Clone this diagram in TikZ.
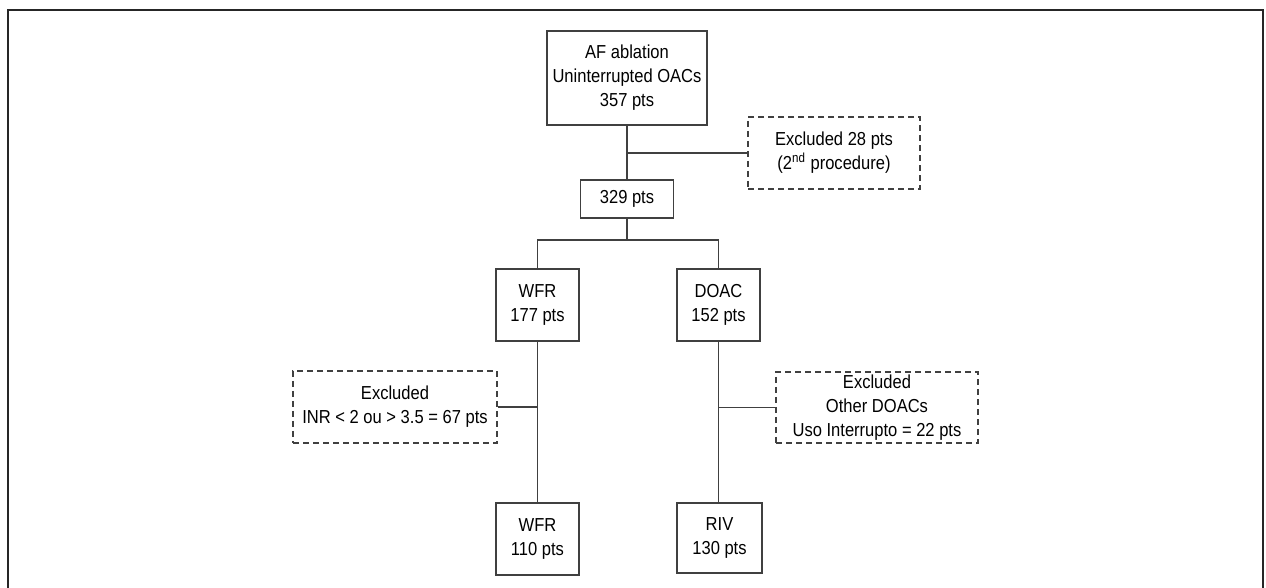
\documentclass[tikz,border=0pt]{standalone}
\usepackage{fontspec}
\setmainfont{Liberation Sans}[FakeStretch=0.88]
\begin{document}
\begin{tikzpicture}[x=0.5pt,y=-0.5pt,
        box/.style={draw=black!75,line width=0.55pt,align=center,inner sep=0pt,font=\fontsize{9.4}{12}\selectfont},
        exclbox/.style={box,dashed,dash pattern=on 3pt off 2pt},
        link/.style={draw=black!75,line width=0.55pt}]
            \useasboundingbox (0,0) rectangle (1266,588);
            \draw[black!85,line width=0.8pt] (8,588)--(8,10)--(1263,10)--(1263,588);
            \node[box,minimum width=80pt,minimum height=47pt] at (627,78) (abl) {AF ablation\\Uninterrupted OACs\\357 pts};
            \node[exclbox,minimum width=86pt,minimum height=36pt] at (834,153) (exproc) {Excluded 28 pts\\(2\textsuperscript{nd} procedure)};
            \node[box,minimum width=46.5pt,minimum height=19pt] at (627,199) (all) {329 pts};
            \node[box,minimum width=41.5pt,minimum height=36pt] at (537.5,305) (wfr) {WFR\\177 pts};
            \node[box,minimum width=41.5pt,minimum height=36pt] at (718.5,305) (doac) {DOAC\\152 pts};
            \node[exclbox,minimum width=102pt,minimum height=36pt] at (395,407) (exinr) {Excluded\\INR < 2 ou > 3.5 = 67 pts};
            \node[exclbox,minimum width=101pt,minimum height=35.5pt] at (877,407.5) (exdoac) {Excluded\\Other DOACs\\Uso Interrupto = 22 pts};
            \node[box,minimum width=41.5pt,minimum height=36pt] at (537.5,539) (wfrend) {WFR\\110 pts};
            \node[box,minimum width=42.5pt,minimum height=35pt] at (719.5,538) (riv) {RIV\\130 pts};
            \coordinate (split) at (627,240);
            \draw[link] (abl.south)--(all.north);
            \draw[link] (abl.south |- exproc.west)--(exproc.west);
            \draw[link] (all.south)--(split);
            \draw[link] (wfr.north) |- (split) -| (doac.north);
            \draw[link] (wfr.south)--(wfrend.north);
            \draw[link] (exinr.east)--(exinr.east -| wfr.south);
            \draw[link] (doac.south)--(doac.south |- riv.north);
            \draw[link] (exdoac.west)--(exdoac.west -| doac.south);
        \end{tikzpicture}
\end{document}
